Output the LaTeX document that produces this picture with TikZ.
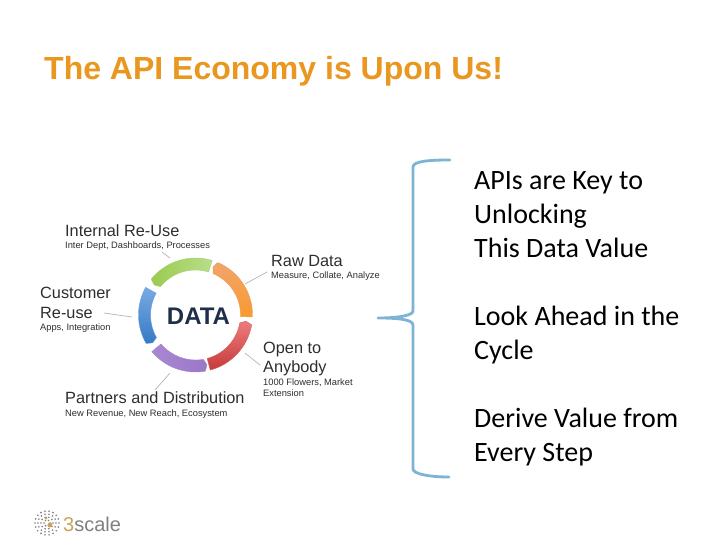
\documentclass[tikz,border=0pt]{standalone}
\usepackage{fontspec}
\setmainfont{Liberation Sans}
\newfontfamily\bodyfont{Carlito}
\definecolor{titleorange}{HTML}{E9971F}
\definecolor{bracecol}{HTML}{7DB4D4}
\definecolor{txtgray}{HTML}{2E2E2E}
\definecolor{leadgray}{HTML}{B5B5B5}
\definecolor{datablue}{HTML}{1F2F4A}
\definecolor{logogray}{HTML}{808080}
\definecolor{logogold}{HTML}{C9A35E}
\definecolor{orA}{HTML}{F1A56B}\definecolor{orB}{HTML}{F99A2E}\definecolor{orC}{HTML}{E8A060}
\definecolor{reA}{HTML}{EC7C7C}\definecolor{reB}{HTML}{C73A3A}\definecolor{reC}{HTML}{D06060}
\definecolor{puA}{HTML}{A987D2}\definecolor{puB}{HTML}{9A78C8}\definecolor{puC}{HTML}{A48ACB}
\definecolor{blA}{HTML}{78ABE3}\definecolor{blB}{HTML}{3579C6}\definecolor{blC}{HTML}{6F9FD8}
\definecolor{grA}{HTML}{9ACB4E}\definecolor{grB}{HTML}{B9DE8A}\definecolor{grC}{HTML}{A8CF78}
\tikzset{
  x=1pt,y=-1pt,
  head/.style={anchor=base west,inner sep=0pt,font=\fontsize{16.3}{19}\selectfont,text=txtgray},
  sub/.style={anchor=base west,inner sep=0pt,font=\fontsize{9.3}{11}\selectfont,text=txtgray},
  bodytxt/.style={anchor=base west,inner sep=0pt,font=\bodyfont\fontsize{28}{33}\selectfont,text=black},
  leadline/.style={draw=leadgray,line width=0.7pt}
}
\begin{document}
\begin{tikzpicture}
\useasboundingbox (0,0) rectangle (728,546);
\fill[white] (0,0) rectangle (728,546);

\node[anchor=base west,inner sep=0pt,font=\bfseries\fontsize{32}{38}\selectfont,text=titleorange] (title) at (44,79) {The API Economy is Upon Us!};

% ring: start angle, end angle (clockwise), shading options, border colour
\def\ringpath#1#2#3#4{%
  \shade[#3,draw=#4,line width=0.4pt,line join=round]
   ({195.5+57*cos(#1)},{315-57*sin(#1)})
   arc[start angle=-#1,end angle=-#2,radius=57]
   -- ({195.5+45*cos(#2)},{315-45*sin(#2)})
   arc[start angle=-#2,end angle=-#1,radius=45]
   -- ({195.5+51*cos(#1+3)},{315-51*sin(#1+3)})
   -- cycle;}
\ringpath{67}{-2}{top color=orA,bottom color=orB}{orC}
\ringpath{-10}{-75}{top color=reA,bottom color=reB}{reC}
\ringpath{-80}{-140}{left color=puA,right color=puB}{puC}
\ringpath{-150}{-209}{top color=blA,bottom color=blB}{blC}
\ringpath{141}{73}{left color=grA,right color=grB}{grC}

\node[inner sep=0pt,font=\bfseries\fontsize{24}{28}\selectfont,text=datablue] (data) at (198.5,316) {DATA};

% labels
\node[head] (a) at (65,236) {Internal Re-Use};
\node[sub] (a2) at (65,248) {Inter Dept, Dashboards, Processes};
\node[head] (b) at (271,266) {Raw Data};
\node[sub] (b2) at (271,278) {Measure, Collate, Analyze};
\node[head] (c) at (40,298) {Customer};
\node[head] (c1) at (40,318) {Re-use};
\node[sub] (c2) at (40,330) {Apps, Integration};
\node[head] (d) at (263,353) {Open to};
\node[head] (d1) at (263,372) {Anybody};
\node[sub] (d2) at (263,385) {1000 Flowers, Market};
\node[sub] (d3) at (263,396) {Extension};
\node[head] (e) at (65,403) {Partners and Distribution};
\node[sub] (e2) at (65,416) {New Revenue, New Reach, Ecosystem};

% leaders
\coordinate (l1a) at (162,252); \coordinate (l1b) at (170,258);
\coordinate (l2a) at (245,284); \coordinate (l2b) at (267,272);
\coordinate (l3a) at (104,313); \coordinate (l3b) at (132,317);
\coordinate (l4a) at (245,353); \coordinate (l4b) at (260,365);
\coordinate (l5a) at (170,373); \coordinate (l5b) at (155,390);
\draw[leadline] (l1a) -- (l1b);
\draw[leadline] (l2a) -- (l2b);
\draw[leadline] (l3a) -- (l3b);
\draw[leadline] (l4a) -- (l4b);
\draw[leadline] (l5a) -- (l5b);

% brace
\coordinate (bt) at (450,160);
\coordinate (bm) at (378,318);
\coordinate (bb) at (449,477);
\draw[bracecol,line width=2.8pt,line cap=round,line join=round]
  (bt) .. controls (430,160) and (413,161) .. (413,167)
  -- (413,311) .. controls (413,316) and (395,318) .. (bm)
  .. controls (395,318) and (413,319) .. (413,325)
  -- (413,469) .. controls (413,474) and (430,477) .. (bb);

% body text
\node[bodytxt] (t1) at (474,189) {APIs are Key to};
\node[bodytxt] (t2) at (474,223) {Unlocking};
\node[bodytxt] (t3) at (474,257) {This Data Value};
\node[bodytxt] (t4) at (474,325) {Look Ahead in the};
\node[bodytxt] (t5) at (474,359) {Cycle};
\node[bodytxt] (t6) at (474,427) {Derive Value from};
\node[bodytxt] (t7) at (474,461) {Every Step};

% logo
\foreach \r/\n in {3/6,6/10,9/14,12/18}{
  \foreach \i in {1,...,\n}{
    \fill[logogray] ({47+\r*cos(360*\i/\n)},{523+\r*sin(360*\i/\n)}) circle (0.9);
  }
}
\fill[logogold] (50,525) circle (2.4);
\fill[logogold] (46,518) circle (1.6);
\node[anchor=base west,inner sep=0pt,font=\fontsize{20}{22}\selectfont] (logo) at (63,531) {\textcolor{logogold}{3}\textcolor{logogray}{scale}};
\end{tikzpicture}
\end{document}
